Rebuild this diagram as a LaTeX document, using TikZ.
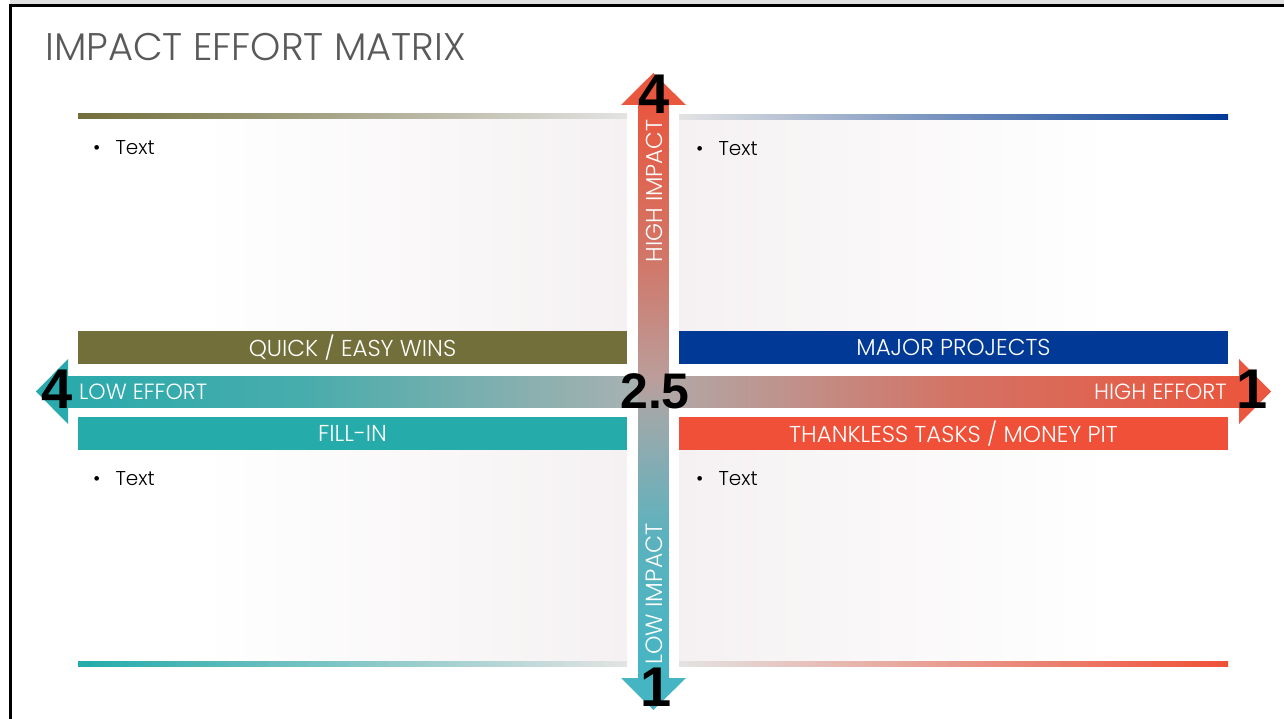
\documentclass[tikz,border=0pt]{standalone}
\usepackage{fontspec}
\usepackage{xcolor}
\usepackage{tikz}
\usetikzlibrary{positioning,calc}

\setmainfont{Poppins}
\IfFontExistsTF{Poppins Light}
  {\newfontfamily\gothfont{Poppins Light}}
  {\newfontfamily\gothfont{Poppins}}
\newfontfamily\digitfont{Liberation Sans}

\definecolor{titlegray}{RGB}{89,89,89}
\definecolor{winsolive}{RGB}{115,111,59}
\definecolor{projblue}{RGB}{0,58,150}
\definecolor{fillteal}{RGB}{36,171,170}
\definecolor{pitred}{RGB}{239,80,55}
\definecolor{quadbg}{RGB}{245,241,242}
\definecolor{rulegray}{RGB}{227,227,227}
\definecolor{axisred}{RGB}{233,87,63}
\definecolor{axisteal}{RGB}{69,181,196}
\definecolor{effteal}{RGB}{42,170,172}
\definecolor{effred}{RGB}{234,86,62}

\pgfdeclarehorizontalshading{effortshade}{100bp}{
  color(0bp)=(effteal); color(25bp)=(effteal); color(35bp)=({rgb,255:red,72;green,172;blue,172});
  color(49bp)=({rgb,255:red,166;green,177;blue,177}); color(51bp)=({rgb,255:red,178;green,166;blue,164});
  color(63bp)=({rgb,255:red,212;green,114;blue,100}); color(75bp)=(effred); color(100bp)=(effred)}
\pgfdeclareverticalshading{impactshade}{100bp}{
  color(0bp)=(axisteal); color(25bp)=(axisteal); color(37.5bp)=({rgb,255:red,92;green,178;blue,190});
  color(48bp)=({rgb,255:red,160;green,168;blue,170}); color(51bp)=({rgb,255:red,186;green,158;blue,155});
  color(61bp)=({rgb,255:red,208;green,120;blue,106}); color(75bp)=(axisred); color(100bp)=(axisred)}

\tikzset{
  bar/.style={text=white, minimum width=549pt, minimum height=33pt, inner sep=0pt,
    font=\gothfont\fontsize{23}{23}\selectfont},
  axislabel/.style={text=white, inner sep=0pt, font=\gothfont\fontsize{22}{22}\selectfont},
  bignum/.style={inner sep=0pt, font=\digitfont\bfseries\fontsize{56}{56}\selectfont},
  bullettext/.style={anchor=west, inner sep=0pt, font=\gothfont\fontsize{20}{20}\selectfont},
}

\begin{document}
\begin{tikzpicture}[x=1pt, y=-1pt]
  \useasboundingbox (0,0) rectangle (1284,719);
  \fill[white] (0,0) rectangle (1284,719);
  \fill[black!12] (10,0) rectangle (1284,4);
  \draw[line width=2.5pt] (10.5,719) -- (10.5,5.5) -- (1284,5.5);

  \node[anchor=west, inner sep=0pt, text=titlegray, font=\gothfont\fontsize{38.5}{38.5}\selectfont]
    (title) at (45,47) {IMPACT EFFORT MATRIX};

  \shade[left color=white, right color=quadbg] (200,119) rectangle (627,331);
  \shade[left color=quadbg, right color=white] (679,120) rectangle (1110,331);
  \shade[left color=white, right color=quadbg] (200,450) rectangle (627,661);
  \shade[left color=quadbg, right color=white] (679,450) rectangle (1110,661);

  \shade[left color=winsolive, right color=rulegray] (78,113.5) rectangle (627,119);
  \shade[left color=rulegray, right color=projblue] (679,114.5) rectangle (1228,120);
  \shade[left color=fillteal, right color=rulegray] (78,661) rectangle (627,666.5);
  \shade[left color=rulegray, right color=pitred] (679,661) rectangle (1228,666.5);

  \node[bar, fill=winsolive] (wins) at (352.5,347.5) {QUICK / EASY WINS};
  \node[bar, fill=projblue] (projects) at (953.5,347.5) {MAJOR PROJECTS};
  \node[bar, fill=fillteal] (fillin) at (352.5,433.5) {FILL-IN};
  \node[bar, fill=pitred] (moneypit) at (953.5,433.5) {THANKLESS TASKS / MONEY PIT};

  \shade[shading=effortshade] (68,376) rectangle (1239,407);
  \fill[effteal] (68,359) -- (36,391.5) -- (68,424) -- cycle;
  \fill[effred] (1239,359) -- (1271,391.5) -- (1239,424) -- cycle;

  \shade[shading=impactshade] (638,105) rectangle (668.5,678);
  \fill[axisred] (621,105) -- (653.3,73) -- (686,105) -- cycle;
  \fill[axisteal] (621,678) -- (653.3,710) -- (686,678) -- cycle;

  \node[axislabel, anchor=west] (loweff) at (79,392) {LOW EFFORT};
  \node[axislabel, anchor=east] (higheff) at (1227,392) {HIGH EFFORT};
  \node[axislabel, rotate=90, font=\gothfont\fontsize{23}{23}\selectfont] (highimp) at (654,191) {HIGH IMPACT};
  \node[axislabel, rotate=90, font=\gothfont\fontsize{23.5}{23.5}\selectfont] (lowimp) at (654,594) {LOW IMPACT};

  \node[bignum] (ntop) at (654,94) {4};
  \node[bignum] (nleft) at (57,389) {4};
  \node[bignum] (nright) at (1252,389) {1};
  \node[bignum] (nbottom) at (656,687) {1};
  \node[bignum, font=\digitfont\bfseries\fontsize{50}{50}\selectfont] (ncenter) at (655,391) {2.5};

  \node[bullettext] (tl) at (93,148) {\textbullet\hskip 15pt Text};
  \node[bullettext] (tr) at (696,149) {\textbullet\hskip 15pt Text};
  \node[bullettext] (bl) at (93,479) {\textbullet\hskip 15pt Text};
  \node[bullettext] (br) at (696,479) {\textbullet\hskip 15pt Text};
\end{tikzpicture}
\end{document}
